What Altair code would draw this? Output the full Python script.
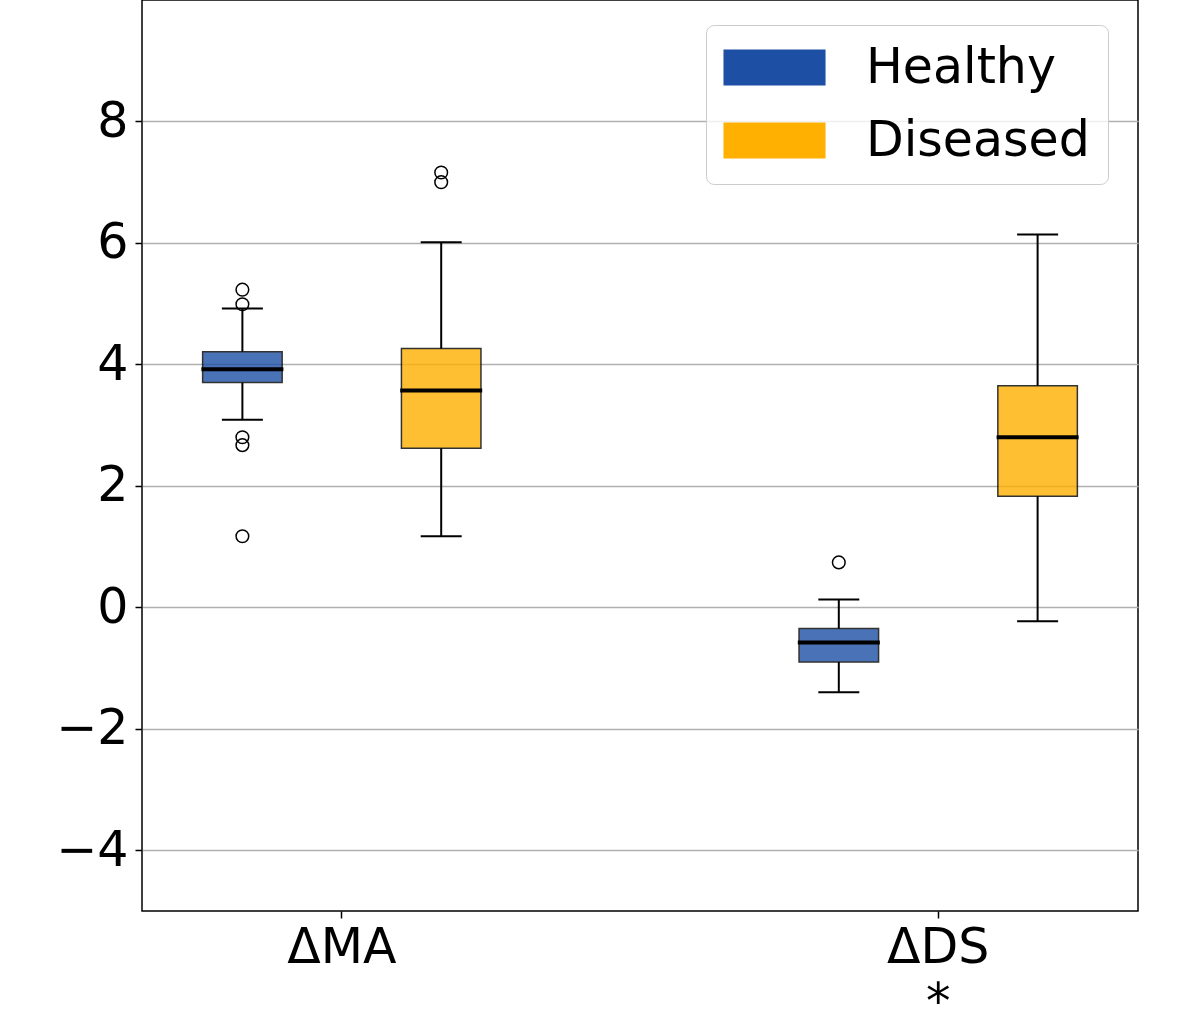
import altair as alt
import pandas as pd

# ---- data ----
groups = ["ΔMA", "ΔDS"]
group_marks = ["", "*"]          # significance marker printed under the group label
conditions = ["Healthy", "Diseased"]
colors = ["#1D4FA4", "#FFB000"]

box_group = ["ΔMA", "ΔMA", "ΔDS", "ΔDS"]
box_cond = ["Healthy", "Diseased", "Healthy", "Diseased"]
whisker_low = [3.09, 1.17, -1.40, -0.23]
q1 = [3.70, 2.62, -0.90, 1.83]
median = [3.92, 3.57, -0.58, 2.80]
q3 = [4.21, 4.26, -0.35, 3.65]
whisker_high = [4.92, 6.01, 0.13, 6.14]

outlier_group = ["ΔMA", "ΔMA", "ΔMA", "ΔMA", "ΔMA", "ΔMA", "ΔMA", "ΔDS"]
outlier_cond = ["Healthy", "Healthy", "Healthy", "Healthy", "Healthy", "Diseased", "Diseased", "Healthy"]
outlier_value = [5.23, 4.99, 2.80, 2.67, 1.17, 7.16, 7.00, 0.74]

y_ticks = [-4, -2, 0, 2, 4, 6, 8]

# ---- tables ----
box_df = pd.DataFrame({
    "group": box_group, "condition": box_cond,
    "lo": whisker_low, "q1": q1, "median": median, "q3": q3, "hi": whisker_high,
})
whisk_df = pd.concat([
    pd.DataFrame({"group": box_group, "condition": box_cond, "a": whisker_low, "b": q1}),
    pd.DataFrame({"group": box_group, "condition": box_cond, "a": q3, "b": whisker_high}),
])
cap_df = pd.concat([
    pd.DataFrame({"group": box_group, "condition": box_cond, "v": whisker_low}),
    pd.DataFrame({"group": box_group, "condition": box_cond, "v": whisker_high}),
])
out_df = pd.DataFrame({"group": outlier_group, "condition": outlier_cond, "v": outlier_value})

# label expression (multi-line label where a marker exists)
expr = "datum.value"
for g, m in zip(groups, group_marks):
    if m:
        expr = f"datum.value == '{g}' ? ['{g}', '{m}'] : " + expr

FONT = "DejaVu Sans"

x_enc = alt.X(
    "group:N",
    sort=groups,
    scale=alt.Scale(domain=groups, paddingInner=0.5, paddingOuter=0.085),
    axis=alt.Axis(
        title=None, labelAngle=0, labelExpr=expr, labelFontSize=49, labelFont=FONT,
        labelColor="black", labelPadding=5, labelLineHeight=55, ticks=True,
        tickSize=7, tickWidth=1.5, tickColor="black", domain=False, grid=False,
    ),
)
xoff = alt.XOffset(
    "condition:N",
    scale=alt.Scale(domain=conditions, paddingInner=0.6, paddingOuter=0.05),
)
y_scale = alt.Scale(domain=[-5, 10], nice=False, zero=False)
y_axis = alt.Axis(
    title=None, values=y_ticks, labelFontSize=49, labelFont=FONT, labelColor="black",
    labelPadding=7, tickSize=7, tickWidth=1.5, tickColor="black", domain=False,
    grid=True, gridColor="#b0b0b0", gridWidth=1.5,
)

whiskers = alt.Chart(whisk_df).mark_rule(color="black", strokeWidth=2, opacity=1).encode(
    x=x_enc, xOffset=xoff,
    y=alt.Y("a:Q", scale=y_scale, axis=y_axis), y2="b:Q",
)
caps = alt.Chart(cap_df).mark_tick(
    color="black", thickness=2, size=41, orient="horizontal", opacity=1,
).encode(
    x=x_enc, xOffset=xoff, y=alt.Y("v:Q", scale=y_scale, axis=y_axis),
)
boxes = alt.Chart(box_df).mark_bar(
    opacity=0.8, stroke="black", strokeWidth=1.5,
).encode(
    x=x_enc, xOffset=xoff,
    y=alt.Y("q1:Q", scale=y_scale, axis=y_axis), y2="q3:Q",
    color=alt.Color(
        "condition:N",
        scale=alt.Scale(domain=conditions, range=colors),
        legend=alt.Legend(
            title=None, orient="none", legendX=564, legendY=25,
            symbolType="M-1.39,-1L4.28,-1L4.28,1L-1.39,1Z", symbolSize=1296,
            symbolStrokeWidth=0, symbolOpacity=1,
            labelFontSize=49, labelFont=FONT, labelColor="black", labelOffset=93,
            labelLimit=0, rowPadding=23, padding=18,
            fillColor="rgba(255,255,255,0.8)", strokeColor="#cccccc", cornerRadius=8,
        ),
    ),
)
medians = alt.Chart(box_df).mark_tick(
    color="black", thickness=4, size=82, orient="horizontal", opacity=1,
).encode(
    x=x_enc, xOffset=xoff, y=alt.Y("median:Q", scale=y_scale, axis=y_axis),
)
outliers = alt.Chart(out_df).mark_point(
    shape="circle", filled=False, color="black", strokeWidth=1.5, size=160, opacity=1,
).encode(
    x=x_enc, xOffset=xoff, y=alt.Y("v:Q", scale=y_scale, axis=y_axis),
)

chart = alt.layer(whiskers, caps, boxes, medians, outliers).properties(
    width=996, height=911,
    background="white",
    autosize=alt.AutoSizeParams(type="none"),
    padding={"left": 142, "top": 0, "right": 62, "bottom": 113},
).configure_view(
    stroke="black", strokeWidth=1.5,
)

chart.save("out.html", embed_options={"renderer": "svg", "actions": False})
